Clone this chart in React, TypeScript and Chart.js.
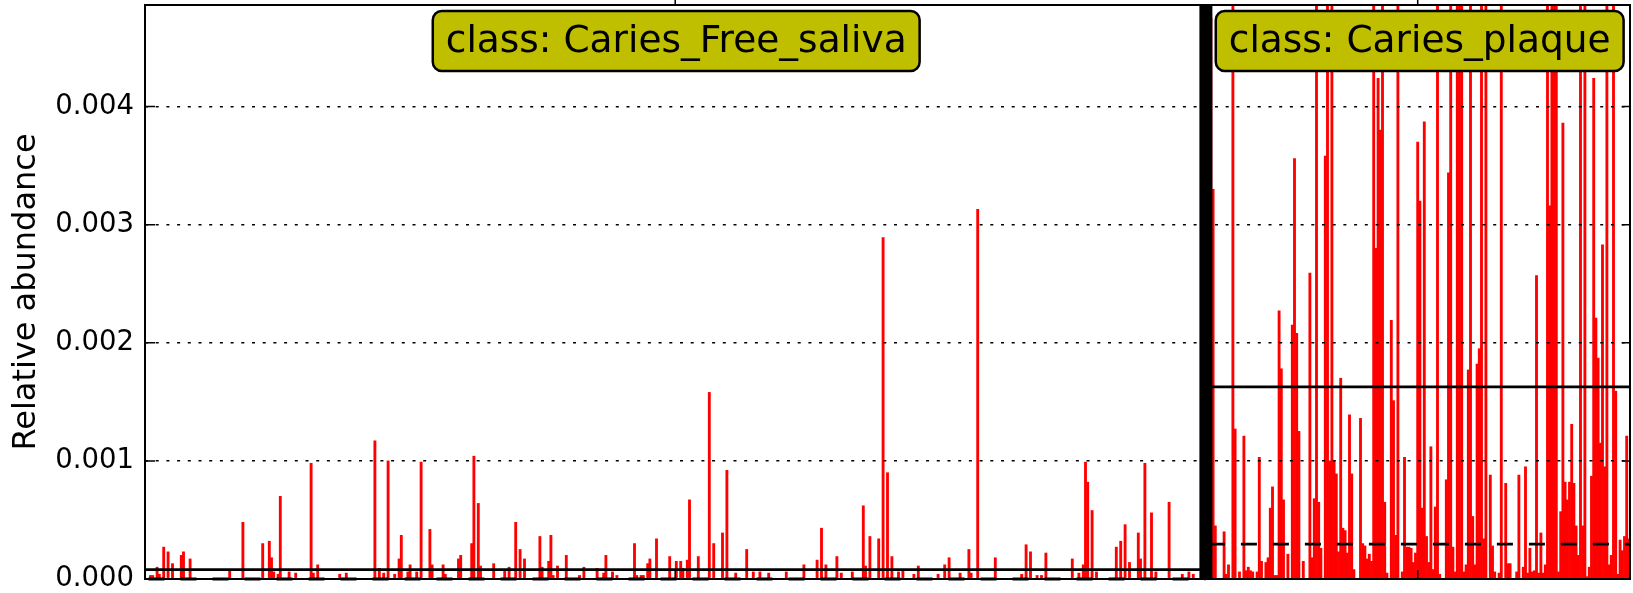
import React, { useEffect, useRef } from "react";
import { Chart, registerables } from "chart.js";

Chart.register(...registerables);

const FONT = '"DejaVu Sans", "Liberation Sans", sans-serif';

const CLASS_NAMES = ["Caries_Free_saliva", "Caries_plaque"];

// Relative abundance per sample, class Caries_Free_saliva (in plotted order)
const FREE_SALIVA = [
  0, 0, 3e-5, 3e-5, 0, 1e-4, 4e-5, 0, 2.7e-4, 0, 2.3e-4, 0, 1.3e-4, 0, 0, 0, 2e-4, 2.3e-4, 0, 0,
  1.7e-4, 0, 0, 0, 0, 0, 0, 0, 0, 0, 0, 0, 0, 0, 0, 0, 0, 0, 7e-5, 0,
  0, 0, 0, 0, 4.8e-4, 0, 0, 0, 0, 0, 0, 0, 0, 3e-4, 0, 0, 3.2e-4, 1.8e-4, 6e-5, 0,
  4e-5, 7e-4, 0, 0, 0, 6e-5, 0, 0, 5e-5, 0, 0, 0, 0, 0, 0, 9.8e-4, 5e-5, 0, 1.2e-4, 0,
  0, 0, 0, 0, 0, 0, 0, 0, 4e-5, 0, 0, 5e-5, 0, 0, 0, 0, 0, 0, 0, 0,
  0, 0, 0, 0, 1.17e-3, 0, 9e-5, 0, 5e-5, 0, 1e-3, 0, 0, 4e-5, 0, 1.7e-4, 3.7e-4, 0, 0, 6e-5,
  1.2e-4, 0, 0, 6e-5, 0, 9.9e-4, 0, 0, 0, 4.2e-4, 1.2e-4, 0, 0, 0, 0, 1.2e-4, 4e-5, 0, 0, 0,
  0, 0, 1.7e-4, 2e-4, 0, 0, 0, 0, 3e-4, 1.04e-3, 0, 6.4e-4, 1.1e-4, 0, 0, 0, 0, 0, 1.3e-4, 0,
  0, 0, 0, 7e-5, 0, 1e-4, 0, 0, 4.8e-4, 0, 2.5e-4, 0, 1.7e-4, 0, 0, 0, 0, 0, 0, 3.6e-4,
  1e-4, 0, 0, 1.5e-4, 3.7e-4, 3e-5, 0, 1.1e-4, 0, 0, 0, 2e-4, 0, 0, 0, 0, 0, 3e-5, 0, 1e-4,
  0, 0, 0, 0, 0, 9e-5, 0, 0, 5e-5, 2e-4, 0, 0, 6e-5, 0, 3e-5, 0, 0, 0, 0, 0,
  0, 0, 3e-4, 3e-5, 0, 3e-5, 3e-5, 0, 1.3e-4, 1.7e-4, 0, 0, 3.4e-4, 0, 0, 0, 0, 0, 1.9e-4, 0,
  0, 1.5e-4, 0, 1.5e-4, 9e-5, 0, 1.6e-4, 6.7e-4, 0, 0, 0, 1.9e-4, 0, 0, 0, 0, 1.58e-3, 0, 3e-4, 0,
  0, 0, 3.9e-4, 0, 9.2e-4, 0, 0, 0, 5e-5, 0, 0, 0, 0, 2.5e-4, 0, 0, 6e-5, 0, 0, 6e-5,
  0, 0, 0, 5e-5, 0, 0, 0, 0, 0, 0, 0, 6e-5, 0, 0, 0, 0, 0, 0, 0, 1.2e-4,
  0, 0, 0, 0, 0, 1.6e-4, 0, 4.3e-4, 0, 1.2e-4, 0, 0, 0, 0, 1.9e-4, 0, 5e-5, 0, 0, 0,
  0, 6e-5, 0, 0, 0, 0, 6.2e-4, 1.1e-4, 0, 3.6e-4, 0, 0, 0, 3.4e-4, 0, 2.89e-3, 0, 9e-4, 0, 1.9e-4,
  0, 0, 6e-5, 0, 8e-5, 0, 0, 0, 0, 4e-5, 0, 1.1e-4, 0, 0, 0, 0, 0, 0, 0, 0,
  4e-5, 0, 0, 1.2e-4, 0, 1.8e-4, 0, 0, 0, 0, 5e-5, 0, 0, 0, 2.5e-4, 5e-5, 0, 0, 3.13e-3, 0,
  0, 0, 0, 0, 0, 0, 1.8e-4, 0, 0, 0, 0, 0, 0, 0, 0, 0, 0, 0, 4e-5, 0,
  2.9e-4, 0, 2.3e-4, 0, 0, 3e-5, 0, 3e-5, 0, 2.2e-4, 0, 0, 0, 0, 0, 0, 0, 0, 0, 0,
  0, 1.7e-4, 0, 0, 5e-5, 0, 1.2e-4, 9.9e-4, 8.2e-4, 0, 5.8e-4, 0, 6e-5, 0, 0, 0, 0, 0, 0, 0,
  0, 2.7e-4, 0, 3.2e-4, 0, 4.6e-4, 0, 1.4e-4, 0, 0, 0, 3.9e-4, 1.7e-4, 0, 9.8e-4, 0, 0, 5.6e-4, 0, 6e-5,
  0, 0, 0, 0, 0, 6.5e-4, 0, 0, 0, 0, 0, 4e-5, 0, 0, 6e-5, 0, 4e-5, 0, 0, 0,
  0, 0,
];

// Relative abundance per sample, class Caries_plaque (in plotted order)
const PLAQUE = [
  2e-4, 1e-4, 4.75e-3, 3.3e-3, 4.5e-4, 0, 0, 0, 4e-4, 4e-5, 1.2e-4, 0, 6.1e-3, 1.27e-3, 0, 6e-5, 0, 1.21e-3, 7e-5, 1e-4,
  7e-5, 6e-5, 0, 6e-5, 1.03e-3, 1.5e-4, 0, 1.4e-4, 1.8e-4, 6e-4, 7.8e-4, 3e-5, 3e-5, 2.27e-3, 1.78e-3, 6.7e-4, 0, 2.1e-4, 0, 2.15e-3,
  3.56e-3, 2.08e-3, 1.25e-3, 0, 1.5e-4, 0, 0, 2.59e-3, 1.8e-4, 6.8e-4, 5.4e-3, 6.5e-4, 2.6e-4, 0, 3.58e-3, 7.2e-3, 1e-3, 5.9e-3, 1e-3, 8.9e-4,
  2.3e-4, 1.7e-3, 4.3e-4, 4.1e-4, 2.2e-4, 1.39e-3, 8.9e-4, 8e-5, 0, 0, 1.36e-3, 3e-4, 2.8e-4, 1.7e-4, 2.1e-4, 1.5e-4, 8.1e-3, 2.8e-3, 4.24e-3, 3.8e-3,
  6.6e-3, 6.5e-4, 5e-5, 0, 2.19e-3, 1.51e-3, 3.7e-4, 5.6e-3, 0, 6e-5, 1.03e-3, 2.7e-4, 2.7e-4, 2.6e-4, 1.4e-4, 2.2e-4, 3.7e-3, 3.2e-3, 6e-4, 3.87e-3,
  3.6e-4, 1.4e-4, 1.12e-3, 8e-5, 6.1e-4, 6.3e-3, 4e-5, 0, 0, 8.4e-4, 3.44e-3, 7.5e-3, 2.7e-4, 6e-5, 5.3e-3, 6.8e-3, 5.5e-3, 6e-5, 1.2e-4, 1.77e-3,
  6e-3, 5.3e-4, 1.2e-4, 1.82e-3, 1.95e-3, 7.7e-3, 3.4e-4, 5.8e-3, 0, 8.8e-4, 2.8e-4, 6e-5, 0, 5e-5, 6.4e-3, 0, 8.1e-4, 1.3e-4, 1.3e-4, 0,
  0, 6e-5, 8.8e-4, 0, 1e-4, 9.5e-4, 5e-5, 2.6e-4, 6e-5, 7e-5, 2.57e-3, 5e-5, 3.9e-4, 5e-5, 1.2e-4, 5.7e-3, 3.16e-3, 6.9e-3, 8.4e-3, 5.2e-3,
  6e-5, 5.7e-4, 3.86e-3, 8.2e-4, 6.7e-4, 8.2e-4, 1.31e-3, 8.1e-4, 4.5e-4, 2e-4, 6.2e-3, 4.5e-4, 7.1e-3, 2e-5, 1e-4, 8.7e-4, 4.24e-3, 2.21e-3, 1.87e-3, 1.15e-3,
  2.83e-3, 9.5e-4, 5.5e-3, 1.2e-4, 2e-4, 6.7e-3, 1.59e-3, 4e-5, 3.3e-4, 2.4e-4, 3.6e-4, 1.21e-3, 3.4e-4,
];

// Class mean (solid line) and median (dashed line)
const CLASS_MEANS = [0.0000786, 0.001627];
const CLASS_MEDIANS = [0, 0.000295];

const Y_TICKS = [0, 0.001, 0.002, 0.003, 0.004];
const Y_MAX = 0.00486;
const Y_TITLE = "Relative abundance";

function boundaryPx(chart: any) {
  const xs = chart.scales.x;
  const nL = FREE_SALIVA.length;
  return (xs.getPixelForValue(nL - 1) + xs.getPixelForValue(nL)) / 2;
}

const overlay = {
  id: "overlay",
  afterDatasetsDraw(chart: any) {
    const { ctx, chartArea: a, scales } = chart;
    const ys = scales.y;
    const bound = boundaryPx(chart);
    const spans = [
      [a.left, bound],
      [bound, a.right],
    ];
    ctx.save();
    ctx.strokeStyle = "#000";
    ctx.lineWidth = 2.8;
    spans.forEach(([l, r], k) => {
      const ym = ys.getPixelForValue(CLASS_MEANS[k]);
      ctx.setLineDash([]);
      ctx.beginPath();
      ctx.moveTo(l, ym);
      ctx.lineTo(r, ym);
      ctx.stroke();
      const yd = ys.getPixelForValue(CLASS_MEDIANS[k]);
      ctx.setLineDash([16, 16]);
      ctx.beginPath();
      ctx.moveTo(l + 3.5, yd);
      ctx.lineTo(r, yd);
      ctx.stroke();
    });
    ctx.setLineDash([]);
    ctx.fillStyle = "#000";
    ctx.fillRect(bound - 6, a.top, 13, a.bottom - a.top);
    ctx.restore();
  },
  afterDraw(chart: any) {
    const { ctx, chartArea: a, scales } = chart;
    const ys = scales.y;
    const bound = boundaryPx(chart);
    const centers = [(a.left + bound) / 2, (bound + a.right) / 2];
    ctx.save();
    ctx.strokeStyle = "#000";
    ctx.lineWidth = 1.5;
    Y_TICKS.forEach((v) => {
      const y = ys.getPixelForValue(v);
      ctx.beginPath();
      ctx.moveTo(a.left, y);
      ctx.lineTo(a.left + 10, y);
      ctx.moveTo(a.right - 8, y);
      ctx.lineTo(a.right, y);
      ctx.stroke();
    });
    centers.forEach((c) => {
      ctx.beginPath();
      ctx.moveTo(c, a.top - 5);
      ctx.lineTo(c, a.top);
      ctx.moveTo(c, a.bottom - 9);
      ctx.lineTo(c, a.bottom);
      ctx.stroke();
    });
    ctx.lineWidth = 2;
    ctx.strokeRect(a.left, a.top, a.right - a.left, a.bottom - a.top);

    ctx.font = `37.5px ${FONT}`;
    ctx.textAlign = "center";
    ctx.textBaseline = "alphabetic";
    CLASS_NAMES.forEach((name, k) => {
      const text = `class: ${name}`;
      const w = ctx.measureText(text).width;
      const bw = w + 26;
      const bh = 60;
      const cx = centers[k] + (k === 1 ? 2 : 1);
      const bx = cx - bw / 2;
      const by = a.top + 6;
      ctx.beginPath();
      if (ctx.roundRect) ctx.roundRect(bx, by, bw, bh, 9);
      else ctx.rect(bx, by, bw, bh);
      ctx.fillStyle = "#bfbf00";
      ctx.fill();
      ctx.lineWidth = 2.5;
      ctx.strokeStyle = "#000";
      ctx.stroke();
      ctx.fillStyle = "#000";
      ctx.fillText(text, cx, by + 40.7);
    });
    ctx.restore();
  },
};

export default function App() {
  const ref = useRef<HTMLCanvasElement>(null);
  useEffect(() => {
    const canvas = ref.current;
    if (!canvas) return;
    const values = [...FREE_SALIVA, ...PLAQUE];
    const labels = values.map((_, i) => `S${i + 1}`);
    const chart = new Chart(canvas, {
      type: "bar",
      data: {
        labels,
        datasets: [
          {
            data: values,
            backgroundColor: "#ff0000",
            borderWidth: 0,
            barPercentage: 1,
            categoryPercentage: 1,
            clip: 0,
          } as any,
        ],
      },
      options: {
        animation: false,
        responsive: false,
        devicePixelRatio: 1,
        layout: { padding: { top: 5, bottom: 14, right: 3, left: 0 } },
        plugins: { legend: { display: false }, tooltip: { enabled: false } },
        scales: {
          x: { display: false },
          y: {
            min: 0,
            max: Y_MAX,
            afterFit: (s: any) => {
              s.width = 145;
              s.paddingTop = 0;
              s.paddingBottom = 0;
            },
            afterBuildTicks: (s: any) => {
              s.ticks = Y_TICKS.map((v) => ({ value: v }));
            },
            ticks: {
              padding: 11,
              color: "#000",
              font: { family: FONT, size: 27.5 },
              callback: (v: any) => Number(v).toFixed(3),
            },
            grid: { color: "#000", lineWidth: 1.5, drawTicks: false, z: 1 },
            border: { display: false, dash: [3, 7.7] },
            title: {
              display: true,
              text: Y_TITLE,
              color: "#000",
              font: { family: FONT, size: 32 },
              padding: { top: 7, bottom: 0 },
            },
          },
        },
      } as any,
      plugins: [overlay as any],
    });
    return () => chart.destroy();
  }, []);
  return (
    <div style={{ position: "fixed", left: 0, top: 0, width: 1633, height: 593, background: "#fff" }}>
      <canvas ref={ref} width={1633} height={593} style={{ display: "block" }} />
    </div>
  );
}
